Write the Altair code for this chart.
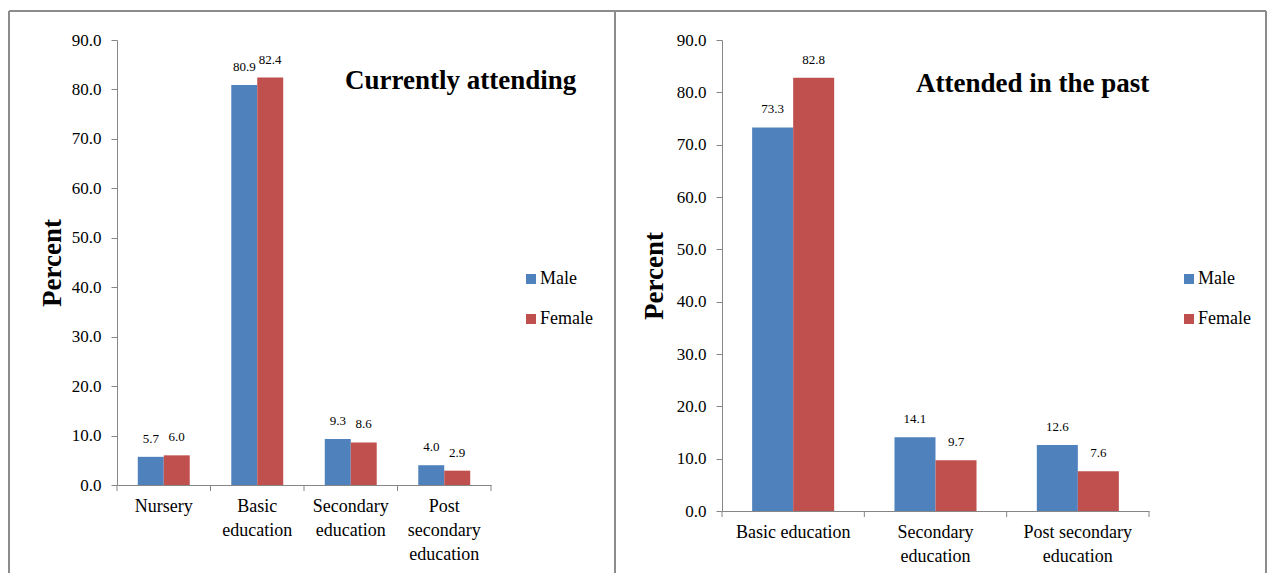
import altair as alt
import pandas as pd

# ---------------- data ----------------
series = ["Male", "Female"]
series_colors = ["#4F81BD", "#C0504D"]

left_title = "Currently attending"
left_categories = ["Nursery", "Basic\neducation", "Secondary\neducation", "Post\nsecondary\neducation"]
left_male = [5.7, 80.9, 9.3, 4.0]
left_female = [6.0, 82.4, 8.6, 2.9]

right_title = "Attended in the past"
right_categories = ["Basic education", "Secondary\neducation", "Post secondary\neducation"]
right_male = [73.3, 14.1, 12.6]
right_female = [82.8, 9.7, 7.6]

y_ticks = [0, 10, 20, 30, 40, 50, 60, 70, 80, 90]
y_title = "Percent"

# ---------------- style ----------------
FONT = "Liberation Serif, Times New Roman, serif"
AXIS_GRAY = "#868686"
FRAME_GRAY = "#8C8C8C"


def panel(title, cats, male, female, W, H, pad_outer, title_x, title_y,
          legend_x, legend_y, ytitle_x, frame_l, frame_r, frame_t, frame_b):
    n = len(cats)
    df = pd.DataFrame({
        "cat": cats * 2,
        "sex": [series[0]] * n + [series[1]] * n,
        "value": male + female,
    })

    def xenc(band_pos=None):
        kw = dict(
            sort=cats,
            scale=alt.Scale(domain=cats, paddingInner=0, paddingOuter=0),
            axis=alt.Axis(
                title=None, labelAngle=0, ticks=False, domainColor=AXIS_GRAY,
                labelExpr="split(datum.label, '\\n')", labelFont=FONT,
                labelFontSize=18, labelLineHeight=24, labelPadding=12,
                labelColor="black",
            ),
        )
        if band_pos is not None:
            kw["bandPosition"] = band_pos
        return alt.X("cat:N", **kw)

    xoff = alt.XOffset(
        "sex:N", sort=series,
        scale=alt.Scale(domain=series, paddingInner=0, paddingOuter=pad_outer),
    )
    yenc = alt.Y(
        "value:Q",
        scale=alt.Scale(domain=[0, 90], nice=False),
        axis=alt.Axis(
            values=y_ticks, format=".1f", title=y_title, grid=False,
            domainColor=AXIS_GRAY, tickColor=AXIS_GRAY, tickSize=6,
            labelFont=FONT, labelFontSize=17, labelPadding=10, labelColor="black",
            titleFont=FONT, titleFontSize=27, titleFontWeight="bold",
            titleColor="black", titleX=ytitle_x, titleY=H / 2,
            titleBaseline="alphabetic", titleAlign="center",
        ),
    )

    base = alt.Chart(df)
    bars = base.mark_bar().encode(
        x=xenc(),
        xOffset=xoff,
        y=yenc,
        color=alt.Color(
            "sex:N", sort=series,
            scale=alt.Scale(domain=series, range=series_colors),
            legend=alt.Legend(
                title=None, orient="none", legendX=legend_x, legendY=legend_y,
                symbolType="square", symbolSize=100, symbolStrokeWidth=0,
                labelFont=FONT, labelFontSize=18, labelColor="black",
                rowPadding=22, padding=0, labelOffset=0,
            ),
        ),
    )
    labels = base.mark_text(
        baseline="alphabetic", dy=-14, font=FONT, fontSize=13, color="black"
    ).encode(
        x=xenc(),
        xOffset=xoff,
        y=yenc,
        text=alt.Text("value:Q", format=".1f"),
    )

    tick_df = pd.DataFrame({"cat": cats})
    ticks = alt.Chart(tick_df).mark_rule(color=AXIS_GRAY).encode(
        x=xenc(0), y=alt.value(H), y2=alt.value(H + 6)
    )
    one = pd.DataFrame({"k": [0]})
    end_tick = alt.Chart(one).mark_rule(color=AXIS_GRAY).encode(
        x=alt.value(W), y=alt.value(H), y2=alt.value(H + 6)
    )

    f_left = alt.Chart(one).mark_rule(color=FRAME_GRAY, strokeWidth=2).encode(
        x=alt.value(frame_l), y=alt.value(frame_t), y2=alt.value(frame_b)
    )
    f_right = alt.Chart(one).mark_rule(color=FRAME_GRAY, strokeWidth=2).encode(
        x=alt.value(frame_r), y=alt.value(frame_t), y2=alt.value(frame_b)
    )
    f_top = alt.Chart(one).mark_rule(color=FRAME_GRAY, strokeWidth=2).encode(
        x=alt.value(frame_l), x2=alt.value(frame_r), y=alt.value(frame_t)
    )

    ttl = alt.Chart(pd.DataFrame({"t": [title]})).mark_text(
        font=FONT, fontSize=27, fontWeight="bold", align="left",
        baseline="alphabetic", color="black",
    ).encode(text="t:N", x=alt.value(title_x), y=alt.value(title_y))

    return alt.layer(
        f_left, f_right, f_top, bars, labels, ticks, end_tick, ttl
    ).properties(width=W, height=H)


p1 = panel(left_title, left_categories, left_male, left_female,
           W=374, H=445, pad_outer=0.8, title_x=228, title_y=49,
           legend_x=405, legend_y=230, ytitle_x=-57,
           frame_l=-108, frame_r=498, frame_t=-29, frame_b=533)
p2 = panel(right_title, right_categories, right_male, right_female,
           W=427, H=471, pad_outer=0.735, title_x=194, title_y=52,
           legend_x=458, legend_y=230, ytitle_x=-60,
           frame_l=-107, frame_r=544, frame_t=-29, frame_b=533)

chart = alt.hconcat(p1, p2, spacing=-2).resolve_scale(
    color="independent", x="independent", y="independent", xOffset="independent"
).resolve_legend(color="independent").properties(
    padding={"left": 0, "top": 2, "right": 0, "bottom": 0}
).configure_view(strokeWidth=0)

chart.save("out.html", embed_options={"renderer": "svg", "actions": False})
